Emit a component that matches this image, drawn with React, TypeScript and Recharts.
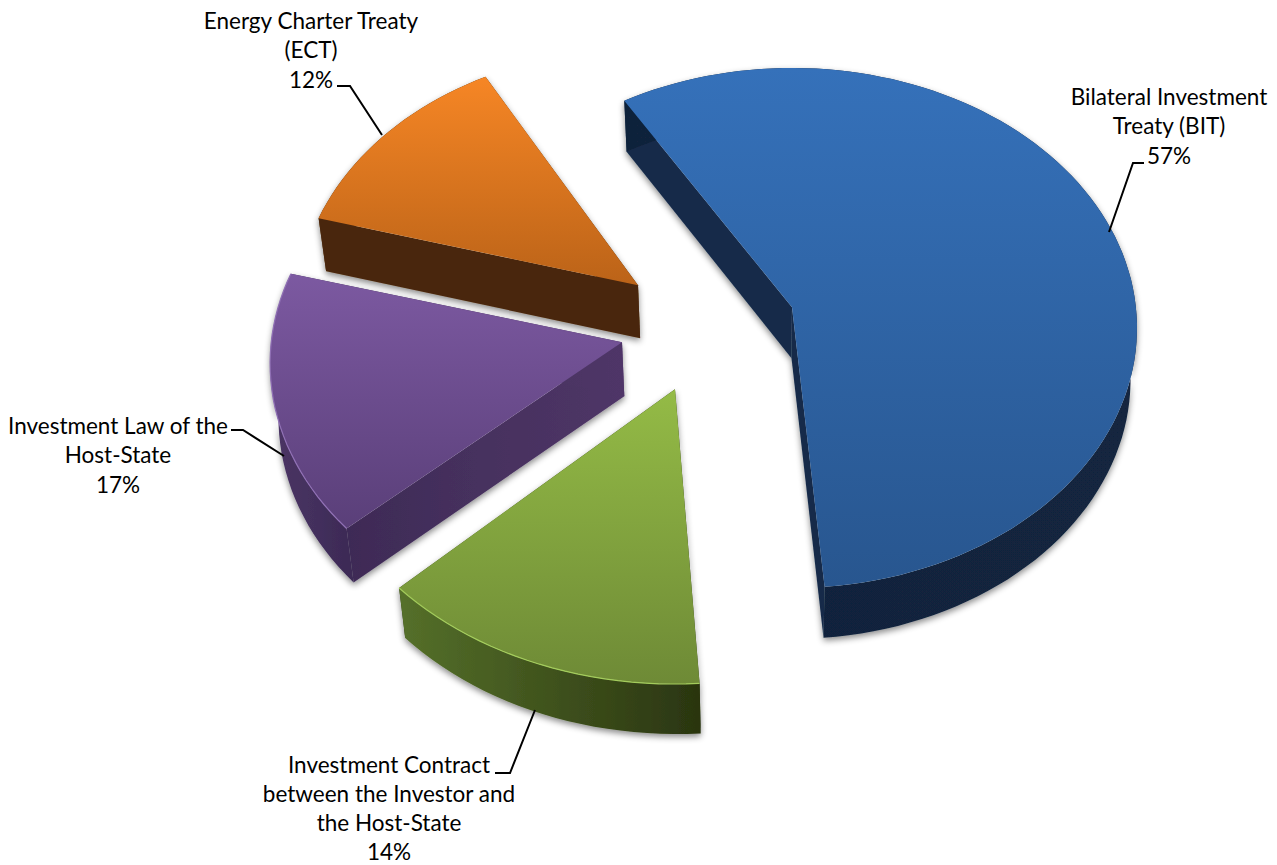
// App.tsx
// Exploded 3D-look pie of treaty shares, drawn through a custom Pie sector shape
import { PieChart, Pie } from "recharts";

const categories = [
    "Bilateral Investment Treaty (BIT)",
    "Investment Contract between the Investor and the Host-State",
    "Investment Law of the Host-State",
    "Energy Charter Treaty (ECT)",
];
const shares = [57, 14, 17, 12];

const labelLines = [
    ["Bilateral Investment", "Treaty (BIT)"],
    ["Investment Contract", "between the Investor and", "the Host-State"],
    ["Investment Law of the", "Host-State"],
    ["Energy Charter Treaty", "(ECT)"],
];

const data = categories.map((name, i) => ({ name, value: shares[i] }));

// look of each slice, same order as the data
// nudge/grow make up for the perspective of the original 3D render
const looks = [
    { dx: 0, dy: 0, grow: 1, depth: 51, nudge: [0, 1.2], top: ["#3571ba", "#28568f"], wall: ["#11233b", "#12253f"], side: ["#152b4a", "#152b4a"], edge: "" },
    { dx: -117, dy: 82, grow: 1.05, depth: 50, nudge: [2.6, 2], top: ["#94bb46", "#6e8a36"], wall: ["#55702a", "#2a3510"], side: ["#2a3510", "#2a3510"], edge: "#a3cc5c" },
    { dx: -170, dy: 35, grow: 1.02, depth: 54, nudge: [3.8, 0], top: ["#7c59a1", "#5a3f79"], wall: ["#4b3565", "#3c2a55"], side: ["#3e2b56", "#4f3667"], edge: "#9070b5" },
    { dx: -154, dy: -22, grow: 0.985, depth: 53, nudge: [0.2, 2.6], top: ["#f68625", "#bb6318"], wall: ["#4a2709", "#4a2709"], side: ["#4a2709", "#4a2709"], edge: "" },
];

const labelSpots = [
    { x: 1169, y: 105, line: "M1109 232L1133 163L1144 163" },
    { x: 389, y: 772.5, line: "M535 710L510 773L495 773" },
    { x: 118, y: 434, line: "M284 456L243 430L231 430" },
    { x: 311, y: 29, line: "M382 135L350 86L337 86" },
];

const ASPECT_X = 345 / 260;
const TILT = 0.08; // how far the tip sits above the ellipse middle
const RAD = Math.PI / 180;

const project = (cx: number, cy: number, radius: number, angle: number, r: number) => {
    const a = angle * RAD;
    const u = Math.cos(a) * r;
    const v = -Math.sin(a) * r;
    const w = 1 - TILT * v;
    const s = Math.sqrt(1 - TILT * TILT);
    return [cx + radius * ASPECT_X * (u * s) / w, cy + radius * (v - TILT) / w];
};

const toLine = (pts: number[][]) =>
    pts.map((p, i) => `${i ? "L" : "M"}${p[0].toFixed(1)} ${p[1].toFixed(1)}`).join("");
const toPath = (pts: number[][]) => toLine(pts) + "Z";

const SliceShape = (props: any) => {
    const { cx, cy, outerRadius, startAngle, endAngle } = props;
    const index = categories.indexOf(props.name);
    const look = looks[index];
    const X = cx + look.dx;
    const Y = cy + look.dy;
    const from = startAngle - look.nudge[0];
    const to = endAngle - look.nudge[1];
    const drop = ([x, y]: number[]) => [x + (760 - x) * 0.017, y + look.depth];
    const tip = project(X, Y, outerRadius, 0, 0);
    const steps = Math.ceil(Math.abs(to - from) / 2);
    const arc: number[][] = [];
    for (let i = 0; i <= steps; i++) {
        const p = project(X, Y, outerRadius, from + ((to - from) * i) / steps, 1);
        arc.push([tip[0] + (p[0] - tip[0]) * look.grow, tip[1] + (p[1] - tip[1]) * look.grow]);
    }
    const first = arc[0];
    const last = arc[arc.length - 1];
    const sideA = [tip, first, drop(first), drop(tip)];
    const sideB = [tip, last, drop(last), drop(tip)];
    const outer = [...arc, ...arc.map(drop).reverse()];
    return (
        <g>
            <defs>
                <linearGradient id={`top${index}`} x1="0" y1="0" x2="0" y2="1">
                    <stop offset="0%" stopColor={look.top[0]} />
                    <stop offset="100%" stopColor={look.top[1]} />
                </linearGradient>
                <linearGradient id={`wall${index}`} x1="0" y1="0" x2="1" y2="0">
                    <stop offset="0%" stopColor={look.wall[0]} />
                    <stop offset="100%" stopColor={look.wall[1]} />
                </linearGradient>
                <linearGradient id={`side${index}`} x1="0" y1="0" x2="1" y2="0">
                    <stop offset="0%" stopColor={look.side[0]} />
                    <stop offset="100%" stopColor={look.side[1]} />
                </linearGradient>
                <filter id={`shade${index}`} x="-10%" y="-10%" width="120%" height="120%">
                    <feDropShadow dx="0" dy="3" stdDeviation="3" floodColor="#000" floodOpacity="0.45" />
                </filter>
            </defs>
            <g filter={`url(#shade${index})`}>
                <path d={toPath(sideA)} fill={`url(#side${index})`} />
                <path d={toPath(sideB)} fill={`url(#side${index})`} />
                <path d={toPath(outer)} fill={`url(#wall${index})`} />
            </g>
            <path d={toPath([tip, ...arc])} fill={`url(#top${index})`} />
            {look.edge && <path d={toLine(arc)} fill="none" stroke={look.edge} strokeWidth={1.2} />}
        </g>
    );
};

const SliceLabel = (props: any) => {
    const index = categories.indexOf(props.name);
    const spot = labelSpots[index];
    const lines = [...labelLines[index], `${shares[index]}%`];
    return (
        <g>
            <path d={spot.line} fill="none" stroke="#000" strokeWidth={2} />
            <text textAnchor="middle" fontFamily="Lato" fontSize={22.5} fill="#000">
                {lines.map((line, i) => (
                    <tspan key={line} x={spot.x} y={spot.y + i * 29.3}>{line}</tspan>
                ))}
            </text>
        </g>
    );
};

export default function App() {
    return (
        <div style={{ position: "absolute", left: 0, top: 0 }}>
            <PieChart width={1277} height={865}>
                <Pie
                    data={data}
                    dataKey="value"
                    nameKey="name"
                    cx={787}
                    cy={323}
                    outerRadius={260}
                    startAngle={121.4}
                    endAngle={-238.6}
                    stroke="none"
                    shape={SliceShape}
                    label={SliceLabel}
                    labelLine={false}
                    isAnimationActive={false}
                />
            </PieChart>
        </div>
    );
}
